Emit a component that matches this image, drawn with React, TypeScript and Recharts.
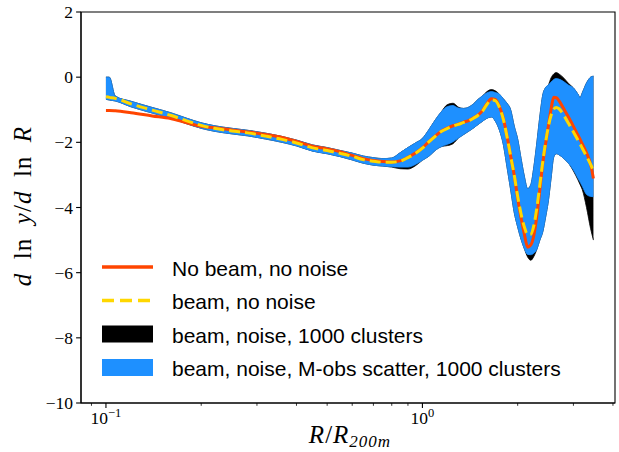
import React from 'react';
import { ComposedChart, Line, Area, XAxis, YAxis, ReferenceArea, Legend } from 'recharts';

const xValues = [0.1, 0.1025, 0.107, 0.12, 0.14, 0.16, 0.18, 0.2, 0.22, 0.25, 0.28, 0.32, 0.36, 0.4, 0.45, 0.5, 0.55, 0.6, 0.65, 0.7, 0.75, 0.8, 0.85, 0.9, 0.95, 1.0, 1.05, 1.1, 1.15, 1.2, 1.25, 1.3, 1.35, 1.4, 1.45, 1.5, 1.55, 1.6, 1.65, 1.7, 1.75, 1.8, 1.85, 1.9, 1.95, 2.0, 2.05, 2.1, 2.15, 2.2, 2.25, 2.3, 2.35, 2.4, 2.45, 2.5, 2.55, 2.6, 2.65, 2.7, 2.8, 2.9, 3.0, 3.1, 3.15, 3.2, 3.3, 3.4, 3.47];

const noBeamNoNoise = [-1.02, -1.02, -1.03, -1.09, -1.19, -1.27, -1.40, -1.51, -1.55, -1.62, -1.68, -1.76, -1.85, -1.97, -2.12, -2.20, -2.29, -2.40, -2.50, -2.56, -2.59, -2.60, -2.57, -2.46, -2.33, -2.17, -1.97, -1.80, -1.65, -1.56, -1.49, -1.44, -1.38, -1.33, -1.25, -1.16, -1.02, -0.81, -0.66, -0.68, -0.90, -1.25, -1.80, -2.42, -3.0, -3.72, -4.32, -4.82, -5.22, -5.15, -4.85, -4.25, -3.45, -2.65, -2.05, -1.50, -0.98, -0.62, -0.63, -0.72, -0.98, -1.24, -1.51, -1.78, -1.91, -2.05, -2.32, -2.68, -3.11];

const beamNoNoise = [-0.60, -0.62, -0.65, -0.82, -1.01, -1.17, -1.34, -1.48, -1.57, -1.65, -1.71, -1.81, -1.91, -2.02, -2.17, -2.25, -2.34, -2.43, -2.53, -2.58, -2.61, -2.61, -2.58, -2.47, -2.34, -2.18, -1.98, -1.81, -1.66, -1.57, -1.50, -1.45, -1.39, -1.34, -1.26, -1.17, -1.04, -0.83, -0.70, -0.72, -0.92, -1.28, -1.82, -2.42, -3.0, -3.66, -4.2, -4.6, -4.83, -4.82, -4.55, -4.0, -3.3, -2.6, -2.0, -1.52, -1.17, -0.98, -0.93, -0.97, -1.18, -1.43, -1.68, -1.93, -2.05, -2.18, -2.43, -2.68, -2.88];

const scatterLow = [-0.68, -0.70, -0.73, -0.91, -1.10, -1.26, -1.43, -1.57, -1.66, -1.74, -1.80, -1.90, -2.00, -2.11, -2.27, -2.35, -2.44, -2.54, -2.64, -2.70, -2.73, -2.75, -2.76, -2.76, -2.68, -2.55, -2.42, -2.24, -2.13, -2.06, -1.98, -1.87, -1.76, -1.66, -1.56, -1.45, -1.35, -1.26, -1.22, -1.35, -1.62, -2.05, -2.75, -3.45, -4.15, -4.6, -4.98, -5.27, -5.44, -5.45, -5.40, -5.28, -5.0, -4.75, -4.3, -3.8, -3.1, -2.45, -2.35, -2.38, -2.5, -2.65, -2.85, -3.1, -3.22, -3.35, -3.6, -3.66, -3.67];

const scatterHigh = [0.0, 0.0, -0.58, -0.74, -0.93, -1.09, -1.26, -1.40, -1.49, -1.57, -1.63, -1.72, -1.82, -1.93, -2.08, -2.16, -2.25, -2.33, -2.42, -2.47, -2.50, -2.48, -2.32, -2.16, -2.02, -1.88, -1.60, -1.30, -1.05, -0.90, -0.87, -0.95, -0.96, -0.92, -0.82, -0.68, -0.57, -0.48, -0.44, -0.47, -0.52, -0.66, -0.80, -1.0, -1.5, -1.9, -2.5, -3.05, -3.42, -3.3, -2.75, -2.0, -1.2, -0.55, -0.32, -0.24, -0.15, -0.07, -0.04, -0.06, -0.14, -0.25, -0.33, -0.52, -0.63, -0.48, -0.18, 0.0, 0.03];

const noiseLow = [-0.68, -0.70, -0.73, -0.91, -1.10, -1.26, -1.43, -1.57, -1.66, -1.74, -1.80, -1.90, -2.00, -2.11, -2.27, -2.35, -2.44, -2.54, -2.64, -2.70, -2.73, -2.76, -2.81, -2.82, -2.72, -2.55, -2.42, -2.24, -2.13, -2.10, -2.04, -1.87, -1.76, -1.66, -1.56, -1.45, -1.35, -1.26, -1.22, -1.35, -1.62, -2.05, -2.75, -3.45, -4.15, -4.6, -4.98, -5.27, -5.52, -5.62, -5.50, -5.28, -5.0, -4.75, -4.3, -3.8, -3.1, -2.45, -2.35, -2.38, -2.5, -2.65, -2.88, -3.15, -3.3, -3.45, -4.0, -4.65, -5.0];

const noiseHigh = [0.0, 0.0, -0.58, -0.74, -0.93, -1.09, -1.26, -1.40, -1.49, -1.57, -1.63, -1.72, -1.82, -1.93, -2.08, -2.16, -2.25, -2.33, -2.42, -2.47, -2.50, -2.48, -2.32, -2.16, -2.02, -1.88, -1.60, -1.30, -1.05, -0.84, -0.80, -0.92, -0.96, -0.92, -0.82, -0.68, -0.57, -0.44, -0.38, -0.42, -0.52, -0.66, -0.80, -1.0, -1.5, -1.9, -2.5, -3.05, -3.42, -3.3, -2.75, -2.0, -1.2, -0.55, -0.32, -0.24, -0.02, 0.10, 0.14, 0.10, -0.03, -0.20, -0.33, -0.52, -0.63, -0.48, -0.18, 0.0, 0.03];

const xTicks = [0.09, 0.1, 0.2, 0.3, 0.4, 0.5, 0.6, 0.7, 0.8, 0.9, 1, 2, 3, 4];
const xMajorLabels: Record<string, string> = { '0.1': '\u22121', '1': '0' };
const yTicks = [-10, -8, -6, -4, -2, 0, 2];

const legendLabels = [
  'No beam, no noise',
  'beam, no noise',
  'beam, noise, 1000 clusters',
  'beam, noise, M-obs scatter, 1000 clusters',
];

const RED = '#FF4500';
const GOLD = '#FFD700';
const BLUE = '#1E90FF';
const BLACK = '#000000';

const data = xValues.map((x, i) => ({
  x,
  red: noBeamNoNoise[i],
  gold: beamNoNoise[i],
  blue: [scatterLow[i], scatterHigh[i]],
  black: [noiseLow[i], noiseHigh[i]],
}));

const SERIF = '"Liberation Serif", "DejaVu Serif", serif';
const SANS = '"Liberation Sans", "DejaVu Sans", sans-serif';

const XTick = (props: any) => {
  const { x, y, payload } = props;
  const v = payload.value;
  const key = String(v);
  const major = key in xMajorLabels;
  const len = major ? 4.9 : 2.8;
  return (
    <g>
      <line x1={x} x2={x} y1={y} y2={y + len} stroke="#000" strokeWidth={major ? 1.1 : 0.8} />
      {major && (
        <text x={x} y={y + 20.6} textAnchor="middle" fontFamily={SERIF} fontSize={17.5} fill="#000">
          <tspan>10</tspan>
          <tspan dy={-6.8} fontSize={12.5}>{xMajorLabels[key]}</tspan>
        </text>
      )}
    </g>
  );
};

const YTick = (props: any) => {
  const { x, y, payload } = props;
  const v = payload.value;
  const label = v < 0 ? '\u2212' + Math.abs(v) : String(v);
  return (
    <g>
      <line x1={x - 4.9} x2={x} y1={y} y2={y} stroke="#000" strokeWidth={1.1} />
      <text x={x - 8} y={y + 6} textAnchor="end" fontFamily={SERIF} fontSize={17.5} fill="#000">
        {label}
      </text>
    </g>
  );
};

const YLabel = () => (
  <text
    x={31}
    y={206}
    transform="rotate(-90, 31, 206)"
    textAnchor="middle"
    fontFamily={SERIF}
    fontSize={25}
    letterSpacing={1}
    fill="#000"
  >
    <tspan fontStyle="italic">d</tspan>
    <tspan>{'\u2002ln\u2002'}</tspan>
    <tspan fontStyle="italic">y</tspan>
    <tspan>/</tspan>
    <tspan fontStyle="italic">d</tspan>
    <tspan>{'\u2002ln\u2002'}</tspan>
    <tspan fontStyle="italic">R</tspan>
  </text>
);

const XLabel = () => (
  <text x={350} y={443} textAnchor="middle" fontFamily={SERIF} fontSize={25} letterSpacing={1} fill="#000">
    <tspan fontStyle="italic">R</tspan>
    <tspan>/</tspan>
    <tspan fontStyle="italic">R</tspan>
    <tspan dy={4} fontSize={17} fontStyle="italic">200m</tspan>
  </text>
);

const LegendContent = () => {
  const rows = [267, 300.5, 334, 367.5];
  return (
    <svg width={619} height={452} style={{ position: 'absolute', left: 0, top: 0, overflow: 'visible' }}>
      <line x1={102} x2={153} y1={rows[0]} y2={rows[0]} stroke={RED} strokeWidth={3.5} />
      <line x1={102} x2={153} y1={rows[1]} y2={rows[1]} stroke={GOLD} strokeWidth={3.5} strokeDasharray="12 6" />
      <rect x={102} y={rows[2] - 8.5} width={51} height={17} fill={BLACK} />
      <rect x={102} y={rows[3] - 8.5} width={51} height={17} fill={BLUE} />
      {legendLabels.map((t, i) => (
        <text key={t} x={172} y={rows[i] + 8.5} fontFamily={SANS} fontSize={21} fill="#000">
          {t}
        </text>
      ))}
    </svg>
  );
};

export default function App() {
  return (
    <div style={{ position: 'absolute', left: 0, top: 0, width: 619, height: 452, background: '#fff' }}>
      <ComposedChart width={619} height={452} data={data} margin={{ top: 12, right: 4, left: 0, bottom: 0 }}>
        <XAxis
          dataKey="x"
          type="number"
          scale="log"
          domain={[0.0834, 4.06]}
          allowDataOverflow
          ticks={xTicks}
          interval={0}
          tick={<XTick />}
          tickLine={false}
          tickSize={0}
          tickMargin={0}
          axisLine={{ stroke: '#000', strokeWidth: 1.1 }}
          height={49}
          label={{ content: () => <XLabel /> }}
        />
        <YAxis
          type="number"
          domain={[-10, 2]}
          allowDataOverflow
          ticks={yTicks}
          interval={0}
          tick={<YTick />}
          tickLine={false}
          tickSize={0}
          tickMargin={0}
          axisLine={{ stroke: '#000', strokeWidth: 1.1 }}
          width={81}
          label={{ content: () => <YLabel /> }}
        />
        <Area
          type="monotone"
          dataKey="black"
          fill={BLACK}
          fillOpacity={1}
          stroke={BLACK}
          strokeWidth={0.8}
          isAnimationActive={false}
          dot={false}
          activeDot={false}
        />
        <Area
          type="monotone"
          dataKey="blue"
          fill={BLUE}
          fillOpacity={1}
          stroke={BLUE}
          strokeWidth={0.8}
          isAnimationActive={false}
          dot={false}
          activeDot={false}
        />
        <Line
          type="monotone"
          dataKey="red"
          stroke={RED}
          strokeWidth={3}
          dot={false}
          activeDot={false}
          isAnimationActive={false}
        />
        <Line
          type="monotone"
          dataKey="gold"
          stroke={GOLD}
          strokeWidth={3}
          strokeDasharray="11 5"
          dot={false}
          activeDot={false}
          isAnimationActive={false}
        />
        <ReferenceArea
          x1={0.0834}
          x2={4.06}
          y1={-10}
          y2={2}
          fill="none"
          fillOpacity={0}
          stroke="#000"
          strokeWidth={1.1}
          ifOverflow="visible"
        />
        <Legend
          layout="horizontal"
          align="center"
          verticalAlign="middle"
          content={() => <LegendContent />}
          wrapperStyle={{ position: 'absolute', left: 0, top: 0, width: 619, height: 452, pointerEvents: 'none' }}
        />
      </ComposedChart>
    </div>
  );
}
